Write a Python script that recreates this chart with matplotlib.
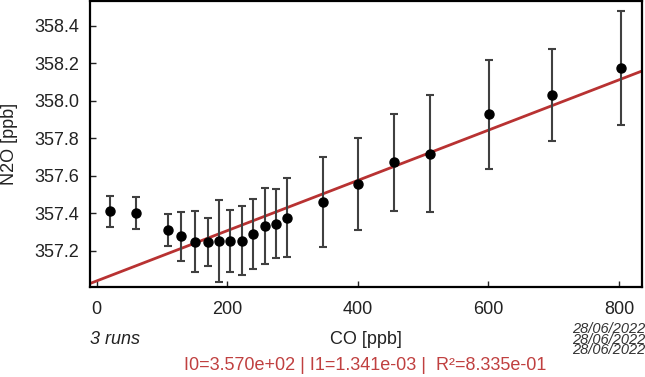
import matplotlib
matplotlib.use("Agg")
import matplotlib.pyplot as plt
import numpy as np

plt.rcParams['font.family'] = ['Liberation Sans', 'DejaVu Sans']

# Data
co = [20, 60, 110, 130, 150, 170, 188, 205, 223, 240, 258, 275, 292, 347, 401, 456, 511, 601, 697, 803]
n2o = [357.411, 357.403, 357.311, 357.279, 357.250, 357.249, 357.253, 357.253, 357.255, 357.291,
       357.335, 357.346, 357.378, 357.463, 357.557, 357.672, 357.719, 357.928, 358.032, 358.174]
err = [0.083, 0.084, 0.085, 0.131, 0.162, 0.129, 0.217, 0.167, 0.183, 0.185,
       0.203, 0.182, 0.212, 0.240, 0.245, 0.259, 0.313, 0.289, 0.244, 0.304]

intercept = 357.04
slope = 1.341e-3
fit_label = "I0=3.570e+02 | I1=1.341e-03 |  R\u00b2=8.335e-01"
run_label = "3 runs"
dates = ["28/06/2022", "28/06/2022", "28/06/2022"]
xticks = [0, 200, 400, 600, 800]
yticks = [357.2, 357.4, 357.6, 357.8, 358.0, 358.2, 358.4]

W, H = 645, 377
FS = 13
fig = plt.figure(figsize=(W / 100, H / 100), dpi=100)
ax = fig.add_axes([90 / W, 1 - 287 / H, (642 - 90) / W, (287 - 1) / H])

xlim = (-10, 835)
ax.set_xlim(*xlim)
ax.set_ylim(357.008, 358.533)

xs = np.array(xlim)
ax.plot(xs, intercept + slope * xs, color='#b83232', lw=2.0, zorder=2)

ax.errorbar(co, n2o, yerr=err, fmt='o', color='black', ms=6.5,
            ecolor='#404040', elinewidth=1.5, capsize=3.2, capthick=1.5, zorder=3)

ax.set_xticks(xticks)
ax.set_yticks(yticks)
ax.set_yticklabels([f"{v:.1f}" for v in yticks])
ax.tick_params(direction='in', length=4, width=1, labelsize=FS, colors='#222222')
ax.tick_params(axis='x', pad=10)
ax.tick_params(axis='y', pad=8)
for s in ax.spines.values():
    s.set_linewidth(1.6)
    s.set_color('black')

def px(x, y):
    return x / W, 1 - y / H

fig.text(*px(10, 144), "N2O [ppb]", rotation=90, ha='center', va='center', fontsize=FS, color='#222222')
fig.text(*px(366, 339), "CO [ppb]", ha='center', va='center', fontsize=FS, color='#222222')
fig.text(*px(90, 339), run_label, ha='left', va='center', fontsize=FS, style='italic', color='#222222')
fig.text(*px(365, 366), fit_label, ha='center', va='center', fontsize=FS, color='#c04040')
for i, d in enumerate(dates):
    fig.text(*px(572, 329 + 10.5 * i), d, ha='left', va='center', fontsize=10.5,
             style='italic', color='#333333')

fig.savefig("out.png", dpi=100)
